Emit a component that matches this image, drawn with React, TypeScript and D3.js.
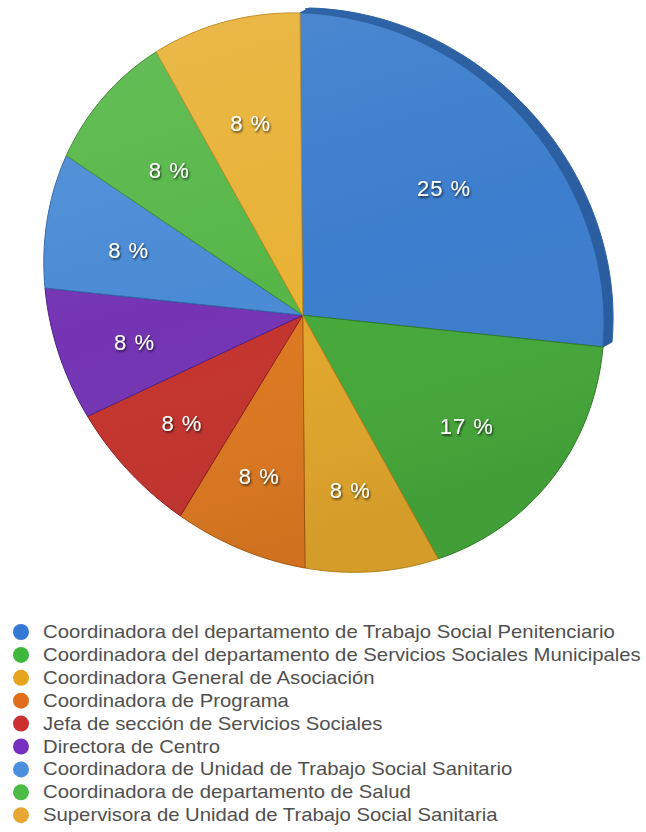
import React from "react";
import * as d3 from "d3";

const categories = [
  "Coordinadora del departamento de Trabajo Social Penitenciario",
  "Coordinadora del departamento de Servicios Sociales Municipales",
  "Coordinadora General de Asociación",
  "Coordinadora de Programa",
  "Jefa de sección de Servicios Sociales",
  "Directora de Centro",
  "Coordinadora de Unidad de Trabajo Social Sanitario",
  "Coordinadora de departamento de Salud",
  "Supervisora de Unidad de Trabajo Social Sanitaria",
];
const values = [3, 2, 1, 1, 1, 1, 1, 1, 1];
const sliceColors = [
  "#3c7dcd",
  "#46a83a",
  "#e1a62b",
  "#dc7820",
  "#c4332d",
  "#7434b4",
  "#4a8bd5",
  "#56b748",
  "#e8b236",
];
const edgeColors = [
  "#2a5f9f",
  "#2f7d25",
  "#b9831a",
  "#a9560f",
  "#8c1e1a",
  "#4f1f85",
  "#2f68a8",
  "#3a8a2e",
  "#bf8a1e",
];
const legendColors = [
  "#3479d6",
  "#3fb63c",
  "#e6a41f",
  "#e06e1d",
  "#cc2f2f",
  "#7530c2",
  "#4b8fdf",
  "#4cbb46",
  "#e8a732",
];

// projection of the tilted disc: where the unit circle's 12, 3, 6 and 9 o'clock points land
const rimSrc = [
  [0, -1],
  [1, 0],
  [0, 1],
  [-1, 0],
];
const rimDst = [
  [300, 13],
  [603, 347],
  [305, 568],
  [45, 288],
];

function solveHomography(src: number[][], dst: number[][]) {
  const A: number[][] = [];
  const b: number[] = [];
  for (let i = 0; i < 4; i++) {
    const [x, y] = src[i];
    const [u, v] = dst[i];
    A.push([x, y, 1, 0, 0, 0, -u * x, -u * y]);
    b.push(u);
    A.push([0, 0, 0, x, y, 1, -v * x, -v * y]);
    b.push(v);
  }
  const n = 8;
  for (let c = 0; c < n; c++) {
    let p = c;
    for (let r = c + 1; r < n; r++) if (Math.abs(A[r][c]) > Math.abs(A[p][c])) p = r;
    [A[c], A[p]] = [A[p], A[c]];
    [b[c], b[p]] = [b[p], b[c]];
    for (let r = 0; r < n; r++) {
      if (r === c) continue;
      const f = A[r][c] / A[c][c];
      for (let k = c; k < n; k++) A[r][k] -= f * A[c][k];
      b[r] -= f * b[c];
    }
  }
  return b.map((v, i) => v / A[i][i]);
}

const H = solveHomography(rimSrc, rimDst);
function project(x: number, y: number): [number, number] {
  const w = H[6] * x + H[7] * y + 1;
  return [(H[0] * x + H[1] * y + H[2]) / w, (H[3] * x + H[4] * y + H[5]) / w];
}
const polar = (a: number, r: number): [number, number] => project(r * Math.sin(a), -r * Math.cos(a));

const total = d3.sum(values);
const arcs = d3
  .pie<number>()
  .sort(null)
  .startAngle(0)
  .endAngle(2 * Math.PI)(values);

const line = d3.line();

function slicePoints(a0: number, a1: number): [number, number][] {
  const n = Math.max(8, Math.ceil(((a1 - a0) / (2 * Math.PI)) * 240));
  const pts: [number, number][] = [project(0, 0)];
  for (let i = 0; i <= n; i++) pts.push(polar(a0 + ((a1 - a0) * i) / n, 1));
  return pts;
}
function rimPoints(a0: number, a1: number): [number, number][] {
  const n = Math.max(8, Math.ceil(((a1 - a0) / (2 * Math.PI)) * 240));
  const pts: [number, number][] = [];
  for (let i = 0; i <= n; i++) pts.push(polar(a0 + ((a1 - a0) * i) / n, 1));
  return pts;
}

const sideOffset: [number, number] = [9, -5];

const legendY = d3.scaleLinear().domain([0, 1]).range([632, 654.9]);

export default function App() {
  const blue = arcs[0];
  const rim = rimPoints(blue.startAngle, blue.endAngle);
  const shifted = rim.map(([x, y]) => [x + sideOffset[0], y + sideOffset[1]] as [number, number]);
  const sidePath = line([...rim, ...shifted.slice().reverse()])! + "Z";
  const shiftedFace =
    line(
      slicePoints(blue.startAngle, blue.endAngle).map(
        ([x, y]) => [x + sideOffset[0] * 0.6, y + sideOffset[1]] as [number, number]
      )
    )! + "Z";
  const outline = line(rimPoints(0, 2 * Math.PI))! + "Z";

  return (
    <svg
      width={646}
      height={832}
      style={{ position: "absolute", left: 0, top: 0, background: "#fff" }}
      fontFamily="'Liberation Sans', Arial, Helvetica, sans-serif"
    >
      <defs>
        <filter id="txtShadow" x="-20%" y="-20%" width="140%" height="160%">
          <feDropShadow dx="1" dy="1.5" stdDeviation="0.9" floodColor="#000" floodOpacity="0.75" />
        </filter>
        <linearGradient id="shade" x1="0" y1="0" x2="0.3" y2="1">
          <stop offset="0" stopColor="#fff" stopOpacity="0.10" />
          <stop offset="0.55" stopColor="#fff" stopOpacity="0" />
          <stop offset="1" stopColor="#000" stopOpacity="0.06" />
        </linearGradient>
        <linearGradient id="sideGrad" x1="0" y1="0" x2="1" y2="1">
          <stop offset="0" stopColor="#2f64a8" />
          <stop offset="1" stopColor="#2a5c9e" />
        </linearGradient>
      </defs>

      {/* thickness of the raised blue slice */}
      <path d={shiftedFace} fill="url(#sideGrad)" />
      <path d={sidePath} fill="url(#sideGrad)" stroke="#2d62a6" strokeWidth={1} />

      {arcs.map((a, i) => (
        <path
          key={i}
          d={line(slicePoints(a.startAngle, a.endAngle))! + "Z"}
          fill={sliceColors[i]}
          stroke={edgeColors[i]}
          strokeWidth={1}
          strokeLinejoin="round"
        />
      ))}
      <path d={outline} fill="url(#shade)" pointerEvents="none" />

      {arcs.map((a, i) => {
        const mid = (a.startAngle + a.endAngle) / 2;
        const [x, y] = polar(mid, 0.67);
        const pct = Math.round((values[i] / total) * 100);
        return (
          <text
            key={i}
            x={x}
            y={y}
            textAnchor="middle"
            dominantBaseline="central"
            fontSize={22}
            letterSpacing={1}
            fill="#fff"
            filter="url(#txtShadow)"
          >
            {`${pct} %`}
          </text>
        );
      })}

      {categories.map((c, i) => (
        <g key={i} transform={`translate(0,${legendY(i)})`}>
          <circle cx={21} cy={0} r={8} fill={legendColors[i]} />
          <g transform="translate(43,0) scale(1.128,1)">
            <text x={0} y={0} dominantBaseline="central" fontSize={18} fill="#505050">
              {c}
            </text>
          </g>
        </g>
      ))}
    </svg>
  );
}
